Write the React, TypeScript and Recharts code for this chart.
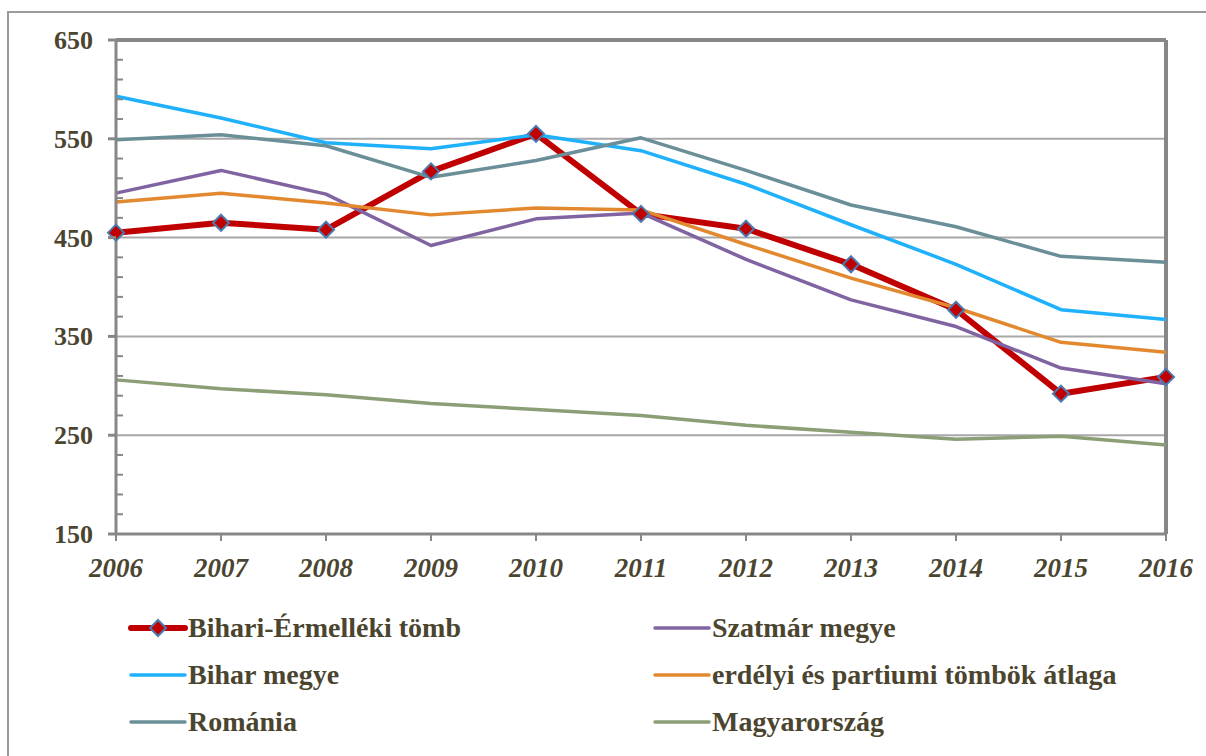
import React from 'react';
import { LineChart, Line, XAxis, YAxis, ReferenceLine } from 'recharts';

const years = ['2006', '2007', '2008', '2009', '2010', '2011', '2012', '2013', '2014', '2015', '2016'];
const bihariErmelleki = [455, 465, 458, 517, 555, 474, 459, 423, 377, 292, 309];
const szatmar = [495, 518, 494, 442, 469, 475, 428, 387, 360, 318, 302];
const bihar = [593, 571, 546, 540, 554, 538, 504, 463, 423, 377, 367];
const erdelyi = [486, 495, 485, 473, 480, 478, 443, 409, 379, 344, 334];
const romania = [549, 554, 543, 511, 528, 551, 518, 483, 461, 431, 425];
const magyarorszag = [306, 297, 291, 282, 276, 270, 260, 253, 246, 249, 240];

const yTicks = Array.from({ length: 26 }, (_, i) => 150 + i * 20);
const majorTicks = [150, 250, 350, 450, 550, 650];
const gridValues = [250, 350, 450, 550];

const data = years.map((y, i) => ({
  year: y,
  bihariErmelleki: bihariErmelleki[i],
  szatmar: szatmar[i],
  bihar: bihar[i],
  erdelyi: erdelyi[i],
  romania: romania[i],
  magyarorszag: magyarorszag[i],
}));

const TEXT = '#4b4530';
const AXIS = '#878787';
const FONT = '"Liberation Serif", "Times New Roman", serif';

const series = [
  { key: 'bihariErmelleki', name: 'Bihari-Érmelléki tömb', color: '#c00000', width: 6 },
  { key: 'szatmar', name: 'Szatmár megye', color: '#8064a2', width: 3.5 },
  { key: 'bihar', name: 'Bihar megye', color: '#1fb1fb', width: 3.5 },
  { key: 'erdelyi', name: 'erdélyi és partiumi tömbök átlaga', color: '#e2892f', width: 3.5 },
  { key: 'romania', name: 'Románia', color: '#6b8f98', width: 3.5 },
  { key: 'magyarorszag', name: 'Magyarország', color: '#8c9e76', width: 3.5 },
];

const Diamond = (props: any) => {
  const { cx, cy } = props;
  if (cx == null || cy == null) return null;
  const r = 8;
  return (
    <path
      d={`M${cx},${cy - r} L${cx + r},${cy} L${cx},${cy + r} L${cx - r},${cy} Z`}
      fill="#c00000"
      stroke="#4a7ab0"
      strokeWidth={2}
    />
  );
};

const YTick = (props: any) => {
  const { x, y, payload } = props;
  const v = payload.value;
  const major = majorTicks.includes(v);
  if (major) {
    return (
      <g>
        <line x1={x - 8} x2={x} y1={y} y2={y} stroke={AXIS} strokeWidth={3} />
        <text x={x - 23} y={y} dy={9} textAnchor="end" fill={TEXT} fontSize={26} fontWeight="bold" fontFamily={FONT}>
          {v}
        </text>
      </g>
    );
  }
  return <line x1={x} x2={x + 7} y1={y} y2={y} stroke={AXIS} strokeWidth={2} />;
};

const LegendItem = ({ s, left, top }: any) => (
  <div style={{ position: 'absolute', left, top: top - 18, height: 36, display: 'flex', alignItems: 'center' }}>
    <svg width={60} height={20} style={{ display: 'block' }}>
      <line x1={3} x2={57} y1={10} y2={10} stroke={s.color} strokeWidth={s.key === 'bihariErmelleki' ? 6 : 3.5} strokeLinecap="round" />
      {s.key === 'bihariErmelleki' && (
        <path d="M30,2 L38,10 L30,18 L22,10 Z" fill="#c00000" stroke="#4a7ab0" strokeWidth={2} />
      )}
    </svg>
    <span style={{ fontFamily: FONT, fontWeight: 'bold', fontSize: 28, color: TEXT, whiteSpace: 'nowrap' }}>{s.name}</span>
  </div>
);

const legendLayout = [
  { key: 'bihariErmelleki', left: 128, top: 628 },
  { key: 'szatmar', left: 652, top: 628 },
  { key: 'bihar', left: 128, top: 675 },
  { key: 'erdelyi', left: 652, top: 675 },
  { key: 'romania', left: 128, top: 722 },
  { key: 'magyarorszag', left: 652, top: 722 },
];

export default function App() {
  return (
    <div style={{ position: 'absolute', left: 0, top: 0, width: 1206, height: 756, background: '#fff', overflow: 'hidden' }}>
      <div style={{ position: 'absolute', left: 7, top: 11, width: 1300, height: 900, borderLeft: '2px solid #9a9a9a', borderTop: '2px solid #9a9a9a' }} />
      <div style={{ position: 'absolute', left: 0, top: 0 }}>
        <LineChart width={1206} height={756} data={data} margin={{ top: 40, right: 40, left: 0, bottom: 172 }}>
          {gridValues.map((v) => (
            <ReferenceLine key={v} y={v} stroke="#a8a8a8" strokeWidth={2} ifOverflow="visible" />
          ))}
          <ReferenceLine y={650} stroke={AXIS} strokeWidth={4} />
          <ReferenceLine x="2016" stroke={AXIS} strokeWidth={4} />
          <XAxis
            dataKey="year"
            height={50}
            stroke={AXIS}
            strokeWidth={3}
            tickSize={7}
            tickMargin={17}
            tickLine={{ stroke: AXIS, strokeWidth: 2 }}
            interval={0}
            tick={{ fill: TEXT, fontSize: 27, fontWeight: 'bold', fontStyle: 'italic', fontFamily: FONT }}
          />
          <YAxis
            width={116}
            domain={[150, 650]}
            ticks={yTicks}
            interval={0}
            stroke={AXIS}
            strokeWidth={3}
            tickSize={0}
            tickMargin={0}
            tickLine={false}
            tick={<YTick />}
          />
          {series.map((s) => (
            <Line
              key={s.key}
              dataKey={s.key}
              name={s.name}
              stroke={s.color}
              strokeWidth={s.width}
              dot={s.key === 'bihariErmelleki' ? <Diamond /> : false}
              activeDot={false}
              isAnimationActive={false}
              strokeLinejoin="round"
            />
          ))}
        </LineChart>
      </div>
      {legendLayout.map((l) => (
        <LegendItem key={l.key} s={series.find((s) => s.key === l.key)} left={l.left} top={l.top} />
      ))}
    </div>
  );
}
